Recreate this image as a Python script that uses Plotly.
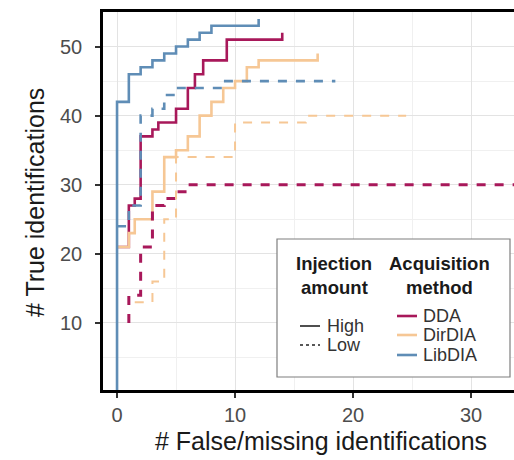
import plotly.graph_objects as go

# ---- data ----
methods = ["DDA", "DirDIA", "LibDIA"]
colors = {"DDA": "#a8185a", "DirDIA": "#f6c795", "LibDIA": "#5f8db6"}

dda_high_x = [0, 1, 1.5, 2, 3, 3.5, 5, 6, 6.6, 7.3, 9.3, 14]
dda_high_y = [21, 27, 28, 37, 38, 39, 41, 44, 46, 48, 51, 52]
dirdia_high_x = [0, 1, 1.5, 3, 4, 5, 6, 7, 8, 9, 10, 11, 12, 17]
dirdia_high_y = [21, 23, 25, 29, 34, 35, 37, 40, 42, 44, 45, 47, 48, 49]
libdia_high_x = [0, 0, 1, 2, 3, 4, 5, 6, 7, 8, 12]
libdia_high_y = [0, 42, 46, 47, 48, 49, 50, 51, 52, 53, 54]

dda_low_x = [1, 1, 2, 2, 3, 4, 5, 6, 35]
dda_low_y = [10, 14, 15, 21, 27, 28, 29, 30, 30]
dirdia_low_x = [1.5, 3, 4, 5, 10, 16, 24.5]
dirdia_low_y = [13, 16, 25, 34, 39, 40, 40]
libdia_low_x = [0, 1, 2, 3, 4, 5, 9, 18.5]
libdia_low_y = [24, 27, 40, 41, 43, 44, 45, 45]

x_ticks = [0, 10, 20, 30]
y_ticks = [10, 20, 30, 40, 50]
x_title = "# False/missing identifications"
y_title = "# True identifications"

series = [
    ("DDA", "High", dda_high_x, dda_high_y),
    ("DirDIA", "High", dirdia_high_x, dirdia_high_y),
    ("LibDIA", "High", libdia_high_x, libdia_high_y),
    ("DDA", "Low", dda_low_x, dda_low_y),
    ("DirDIA", "Low", dirdia_low_x, dirdia_low_y),
    ("LibDIA", "Low", libdia_low_x, libdia_low_y),
]

FONT = "Liberation Sans, Arial, sans-serif"
W, H = 514, 460
ML, MR, MT, MB = 103, 0, 12, 70
PW, PH = W - ML - MR, H - MT - MB

fig = go.Figure()
for m, amt, xs, ys in series:
    width = 2.6
    if amt == "Low" and m == "DirDIA":
        width = 2.0
    if amt == "Low" and m == "DDA":
        width = 3.0
    fig.add_trace(go.Scatter(
        x=xs, y=ys, mode="lines", line_shape="hv",
        line=dict(color=colors[m], width=width,
                  dash="solid" if amt == "High" else "9px,9px"),
        showlegend=False, hoverinfo="skip"))

def px(xpix):
    return (xpix - ML) / PW

def py(ypix):
    return (H - MB - ypix) / PH

ann = []
shapes = []
# axis titles
ann.append(dict(x=px(321), y=py(441), xref="paper", yref="paper", text=x_title,
                showarrow=False, font=dict(family=FONT, size=25, color="#1a1a1a"),
                xanchor="center", yanchor="middle"))
ann.append(dict(x=px(35), y=py(203), xref="paper", yref="paper", text=y_title,
                showarrow=False, textangle=-90,
                font=dict(family=FONT, size=25, color="#1a1a1a"),
                xanchor="center", yanchor="middle"))

# legend box
shapes.append(dict(type="rect", xref="paper", yref="paper",
                   x0=px(277), x1=px(510), y0=py(377), y1=py(239),
                   line=dict(color="#7f7f7f", width=1.2), fillcolor="white", layer="above"))
for txt, cx, cy in [("Injection", 334, 263), ("amount", 334, 287),
                    ("Acquisition", 439, 263), ("method", 439, 287)]:
    ann.append(dict(x=px(cx), y=py(cy), xref="paper", yref="paper", text="<b>%s</b>" % txt,
                    showarrow=False, font=dict(family=FONT, size=18.5, color="#1a1a1a"),
                    xanchor="center", yanchor="middle"))
for amt, cy, dash in [("High", 326, "solid"), ("Low", 345, "dot")]:
    shapes.append(dict(type="line", xref="paper", yref="paper",
                       x0=px(300), x1=px(320), y0=py(cy), y1=py(cy),
                       line=dict(color="#222222", width=1.6, dash=dash), layer="above"))
    ann.append(dict(x=px(325), y=py(cy), xref="paper", yref="paper", text=amt,
                    showarrow=False, font=dict(family=FONT, size=18, color="#333333"),
                    xanchor="left", yanchor="middle"))
for m, cy in zip(methods, [316, 335, 355]):
    shapes.append(dict(type="line", xref="paper", yref="paper",
                       x0=px(397), x1=px(417), y0=py(cy), y1=py(cy),
                       line=dict(color=colors[m], width=2.6), layer="above"))
    ann.append(dict(x=px(421), y=py(cy), xref="paper", yref="paper", text=m,
                    showarrow=False, font=dict(family=FONT, size=18, color="#333333"),
                    xanchor="left", yanchor="middle"))

fig.update_layout(
    width=W, height=H,
    margin=dict(l=ML, r=MR, t=MT, b=MB, pad=0),
    paper_bgcolor="white", plot_bgcolor="white",
    annotations=ann, shapes=shapes,
    font=dict(family=FONT),
)
fig.update_xaxes(
    range=[-1.19, 33.64], tickvals=x_ticks, ticktext=[str(v) for v in x_ticks],
    showline=True, linecolor="black", linewidth=2.5, mirror=True,
    ticks="outside", ticklen=5, tickwidth=1.5, tickcolor="#333333",
    tickfont=dict(family=FONT, size=20, color="#4d4d4d"),
    showgrid=True, gridcolor="#e3e3e3", gridwidth=1,
    minor=dict(tickvals=[5, 15, 25], showgrid=True, gridcolor="#f0f0f0", gridwidth=1),
    zeroline=False, fixedrange=True,
)
fig.update_yaxes(
    range=[0.3, 55], tickvals=y_ticks, ticktext=[str(v) for v in y_ticks],
    showline=True, linecolor="black", linewidth=2.5, mirror=False,
    ticks="outside", ticklen=5, tickwidth=1.5, tickcolor="#333333",
    tickfont=dict(family=FONT, size=20, color="#4d4d4d"),
    ticklabelstandoff=9,
    showgrid=True, gridcolor="#e3e3e3", gridwidth=1,
    minor=dict(tickvals=[5, 15, 25, 35, 45, 55], showgrid=True, gridcolor="#f0f0f0", gridwidth=1),
    zeroline=False, fixedrange=True,
)

fig.write_html("out.html", config={"displayModeBar": False})
